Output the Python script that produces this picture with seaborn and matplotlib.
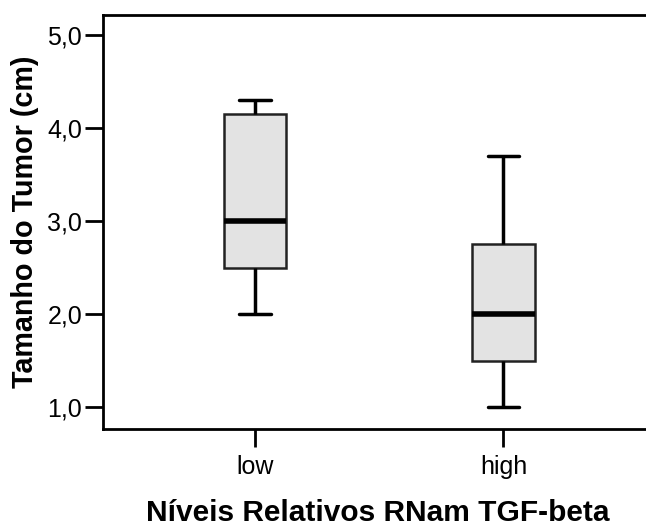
import matplotlib
matplotlib.use("Agg")
import matplotlib.pyplot as plt
import seaborn as sns
import pandas as pd
from matplotlib.ticker import FuncFormatter

# Values (min, Q1, median, Q3, max per group)
categories = ["low", "high"]
low_values = [2.0, 2.5, 3.0, 4.15, 4.3]
high_values = [1.0, 1.5, 2.0, 2.75, 3.7]
y_ticks = [1.0, 2.0, 3.0, 4.0, 5.0]

df = pd.DataFrame({
    "grupo": [categories[0]] * len(low_values) + [categories[1]] * len(high_values),
    "tamanho": low_values + high_values,
})

sns.set_style("white")
plt.rcParams["font.family"] = ["Liberation Sans", "DejaVu Sans"]
plt.rcParams["text.color"] = "#000000"
plt.rcParams["axes.labelcolor"] = "#000000"

fig = plt.figure(figsize=(6.46, 5.32), dpi=100)
ax = fig.add_axes([103 / 646, 1 - 429 / 532, 1 - 103 / 646 + 0.01, (429 - 15) / 532])

sns.boxplot(data=df, x="grupo", y="tamanho", order=categories, ax=ax,
            width=0.252, color="#e3e3e3", whis=10, fliersize=0,
            linewidth=2.2, linecolor="#111111",
            boxprops=dict(facecolor="#e3e3e3", edgecolor="#222222", linewidth=1.8),
            whiskerprops=dict(color="#000000", linewidth=2.5),
            capprops=dict(color="#000000", linewidth=2.5),
            medianprops=dict(color="#000000", linewidth=4))

ax.set_xlim(-0.612, 1.6)
ax.set_ylim(0.767, 5.21)
ax.set_yticks(y_ticks)
ax.yaxis.set_major_formatter(FuncFormatter(lambda v, p: f"{v:.1f}".replace(".", ",")))

for s in ["left", "bottom", "top"]:
    ax.spines[s].set_visible(True)
    ax.spines[s].set_color("#000000")
    ax.spines[s].set_linewidth(2)
ax.spines["right"].set_visible(False)

ax.tick_params(axis="both", which="major", direction="out", length=13, width=2,
               color="#000000", labelsize=18, labelcolor="#000000", pad=2,
               left=True, bottom=True)
ax.tick_params(axis="x", pad=6)

ax.set_ylabel("Tamanho do Tumor (cm)", fontsize=20.7, fontweight="bold", labelpad=6,
              color="#000000")
ax.set_xlabel("Níveis Relativos RNam TGF-beta", fontsize=21.5, fontweight="bold",
              labelpad=14, color="#000000")

fig.savefig("out.png", dpi=100)
